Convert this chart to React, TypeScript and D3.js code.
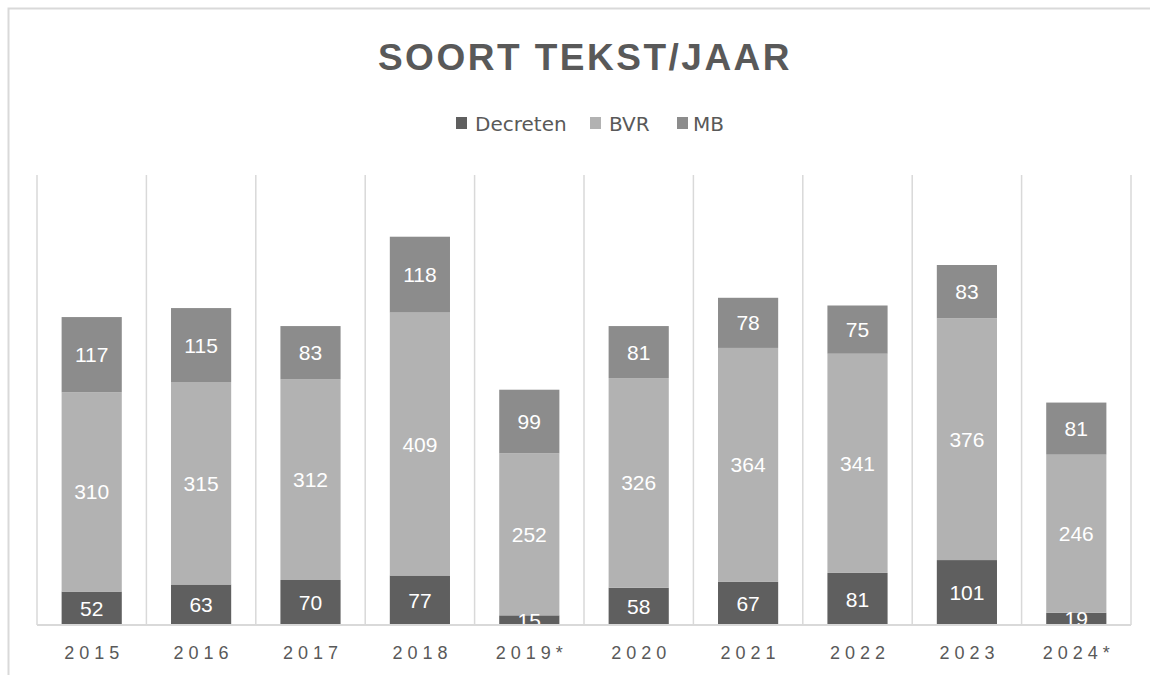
import React from "react";
import * as d3 from "d3";

const years = ["2015", "2016", "2017", "2018", "2019*", "2020", "2021", "2022", "2023", "2024*"];
const decreten = [52, 63, 70, 77, 15, 58, 67, 81, 101, 19];
const bvr = [310, 315, 312, 409, 252, 326, 364, 341, 376, 246];
const mb = [117, 115, 83, 118, 99, 81, 78, 75, 83, 81];
const seriesNames = ["Decreten", "BVR", "MB"];
const seriesColors = ["#5f5f5f", "#b2b2b2", "#8c8c8c"];
const yMax = 700;

export default function App() {
  const W = 1150, H = 675;
  const left = 37, right = 1131, top = 175, bottom = 625;
  const x = d3.scaleBand<string>().domain(years).range([left, right]).paddingInner(0).paddingOuter(0);
  const y = d3.scaleLinear().domain([0, yMax]).range([bottom, top]);
  const barW = x.bandwidth() * 0.55;

  const rows = years.map((yr, i) => ({ year: yr, Decreten: decreten[i], BVR: bvr[i], MB: mb[i] }));
  const stack = d3.stack<any>().keys(seriesNames)(rows);

  const gridXs = years.map((yr) => x(yr)!).concat([right]);
  const font = "'Liberation Sans', Arial, sans-serif";

  const legendItems = [
    { name: "Decreten", sx: 456, tx: 475 },
    { name: "BVR", sx: 590, tx: 609 },
    { name: "MB", sx: 677, tx: 693 },
  ];

  return (
    <svg width={W} height={H} style={{ position: "absolute", left: 0, top: 0, background: "#fff" }} fontFamily={font}>
      <defs>
        <clipPath id="plotclip">
          <rect x={left} y={top - 100} width={right - left} height={bottom - top + 100} />
        </clipPath>
      </defs>
      <rect x={8.5} y={8.5} width={1200} height={800} fill="none" stroke="#d9d9d9" strokeWidth={2} />
      <text x={585} y={70} textAnchor="middle" fontSize={37} fontWeight="bold" fill="#595959" letterSpacing={2.5}>
        SOORT TEKST/JAAR
      </text>
      {legendItems.map((it, i) => (
        <g key={it.name}>
          <rect x={it.sx} y={117} width={11} height={12} fill={seriesColors[i]} />
          <text x={it.tx} y={131} fontSize={20} fill="#595959" fontFamily="'DejaVu Sans', sans-serif">{it.name}</text>
        </g>
      ))}
      {gridXs.map((gx, i) => (
        <line key={i} x1={gx} x2={gx} y1={top} y2={bottom} stroke="#d9d9d9" strokeWidth={1.5} />
      ))}
      <g clipPath="url(#plotclip)">
        {stack.map((layer, si) => (
          <g key={si}>
            {layer.map((d, i) => {
              const bx = x(years[i])! + (x.bandwidth() - barW) / 2;
              return (
                <rect key={i} x={bx} y={y(d[1])} width={barW} height={y(d[0]) - y(d[1])} fill={seriesColors[si]} />
              );
            })}
          </g>
        ))}
        {stack.map((layer, si) => (
          <g key={"l" + si}>
            {layer.map((d, i) => {
              const cx = x(years[i])! + x.bandwidth() / 2;
              const cy = y((d[0] + d[1]) / 2);
              return (
                <text key={i} x={cx} y={cy} dy="0.36em" textAnchor="middle" fontSize={21} fill="#ffffff">
                  {d[1] - d[0]}
                </text>
              );
            })}
          </g>
        ))}
      </g>
      <line x1={left} x2={right} y1={bottom} y2={bottom} stroke="#d9d9d9" strokeWidth={2} />
      {years.map((yr) => (
        <text key={yr} x={x(yr)! + x.bandwidth() / 2 + 2.5} y={659} textAnchor="middle" fontSize={18} fill="#595959" letterSpacing={5}>
          {yr}
        </text>
      ))}
    </svg>
  );
}
